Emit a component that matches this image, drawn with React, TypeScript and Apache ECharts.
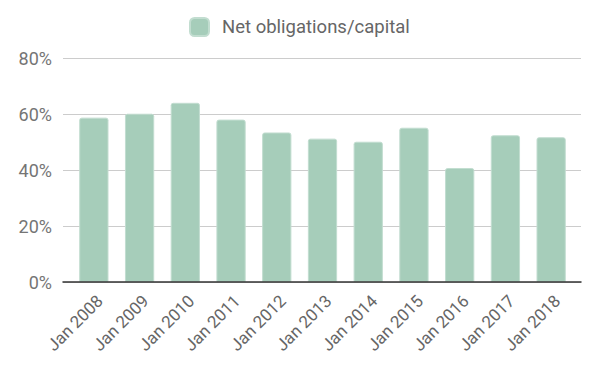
import React, { useEffect, useRef } from "react";
import * as echarts from "echarts";

const categories = ["Jan 2008", "Jan 2009", "Jan 2010", "Jan 2011", "Jan 2012", "Jan 2013", "Jan 2014", "Jan 2015", "Jan 2016", "Jan 2017", "Jan 2018"];
const netObligations = [58.7, 60.1, 64.0, 58.0, 53.4, 51.2, 50.1, 55.1, 40.7, 52.4, 51.7];
const yTicks = [0, 20, 40, 60, 80];

export default function App() {
  const ref = useRef<HTMLDivElement>(null);
  useEffect(() => {
    if (!ref.current) return;
    const chart = echarts.init(ref.current, undefined, { renderer: "svg" });
    const yMin = yTicks[0];
    const yMax = yTicks[yTicks.length - 1];
    chart.setOption({
      animation: false,
      textStyle: { fontFamily: "Roboto" },
      legend: {
        top: 12,
        left: 184,
        itemWidth: 19,
        itemHeight: 18,
        itemGap: 10,
        icon: "roundRect",
        textStyle: { fontSize: 18.5, color: "#666666", fontFamily: "Roboto", padding: [0, 0, 0, 8] },
        data: ["Net obligations/capital"],
      },
      grid: [
        { left: 63, right: 19, top: 58, bottom: 93, containLabel: false },
        { left: 71, right: 26, top: 58, bottom: 93, containLabel: false },
      ],
      xAxis: [
        {
          type: "category",
          gridIndex: 0,
          data: categories,
          axisLine: { lineStyle: { color: "#333333", width: 1.5 } },
          axisTick: { show: false },
          axisLabel: { show: false },
          z: 5,
        },
        {
          type: "category",
          gridIndex: 1,
          data: categories,
          axisLine: { show: false },
          axisTick: { show: false },
          axisLabel: {
            rotate: 45,
            fontSize: 17,
            color: "#666666",
            margin: 10,
            interval: 0,
            verticalAlign: "top",
          },
        },
      ],
      yAxis: [
        {
          type: "value",
          gridIndex: 0,
          min: yMin,
          max: yMax,
          interval: 20,
          axisLine: { show: false },
          axisTick: { show: false },
          splitLine: { lineStyle: { color: "#cccccc", width: 1 } },
          axisLabel: { formatter: "{value}%", fontSize: 18, color: "#757575", margin: 11 },
        },
        {
          type: "value",
          gridIndex: 1,
          min: yMin,
          max: yMax,
          interval: 20,
          axisLine: { show: false },
          axisTick: { show: false },
          splitLine: { show: false },
          axisLabel: { show: false },
        },
      ],
      series: [
        {
          name: "Net obligations/capital",
          type: "bar",
          xAxisIndex: 1,
          yAxisIndex: 1,
          data: netObligations,
          barCategoryGap: "36%",
          itemStyle: {
            color: "#a6cdba",
            borderColor: "#c2ddd0",
            borderWidth: 1,
            borderRadius: [2, 2, 0, 0],
          },
        },
      ],
    });
    return () => chart.dispose();
  }, []);
  return <div ref={ref} style={{ width: 600, height: 375, position: "absolute", left: 0, top: 0 }} />;
}
